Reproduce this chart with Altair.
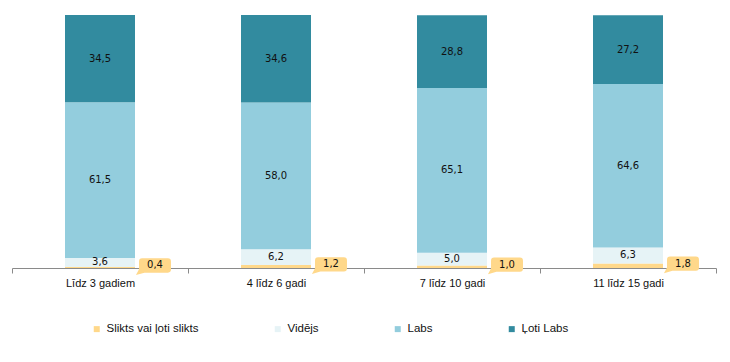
import altair as alt
import pandas as pd

categories = ["Līdz 3 gadiem", "4 līdz 6 gadi", "7 līdz 10 gadi", "11 līdz 15 gadi"]
series = ["Slikts vai ļoti slikts", "Vidējs", "Labs", "Ļoti Labs"]
colors = ["#FFD88A", "#E6F3F6", "#93CDDD", "#328B9F"]
slikts = [0.4, 1.2, 1.0, 1.8]
videjs = [3.6, 6.2, 5.0, 6.3]
labs = [61.5, 58.0, 65.1, 64.6]
loti_labs = [34.5, 34.6, 28.8, 27.2]

rows = []
for i, c in enumerate(categories):
    for j, (s, vals) in enumerate(zip(series, [slikts, videjs, labs, loti_labs])):
        v = vals[i]
        rows.append({"cat": c, "series": s, "idx": j, "value": v,
                     "label": f"{v:.1f}".replace(".", ",")})
df = pd.DataFrame(rows)

xaxis = alt.Axis(labelAngle=0, ticks=True, tickBand="extent", tickExtra=True,
                 domainColor="#8a8a8a",
                 tickColor="#8a8a8a", tickSize=5, tickWidth=1, tickOpacity=1,
                 labelPadding=4,
                 labelFont="Liberation Sans", labelFontSize=11,
                 labelColor="#111111")
xscale = alt.Scale(paddingInner=0, paddingOuter=0)
xenc = alt.X("cat:N", sort=categories, title=None, scale=xscale, axis=xaxis)
yscale = alt.Scale(domain=[0, 100], nice=False)

base = alt.Chart(df).transform_stack(
    stack="value", groupby=["cat"], sort=[alt.SortField("idx", order="ascending")],
    as_=["y0", "y1"]
).transform_calculate(mid="(datum.y0 + datum.y1) / 2")

bars = base.mark_bar(size=70).encode(
    x=xenc,
    y=alt.Y("y0:Q", scale=yscale, axis=None, title=None),
    y2="y1:Q",
    color=alt.Color("series:N", sort=series,
                    scale=alt.Scale(domain=series, range=colors),
                    legend=alt.Legend(title=None, orient="none", legendX=79, legendY=308,
                                      direction="horizontal", columns=4, columnPadding=73,
                                      symbolType="square", symbolSize=36,
                                      symbolStrokeWidth=0, labelOffset=4,
                                      labelFont="Liberation Sans", labelFontSize=11.5,
                                      labelColor="#111111")),
)

inner = base.transform_filter("datum.idx > 0").mark_text(
    font="DejaVu Sans", fontSize=10, color="#111111", baseline="middle"
).encode(x=alt.X("cat:N", sort=categories, scale=xscale, axis=xaxis),
         y=alt.Y("mid:Q", scale=yscale), text="label:N")

box_path = ("M-0.76,-0.42 L0.76,-0.42 Q0.94,-0.42 0.94,-0.24 L0.94,0.24 "
            "Q0.94,0.42 0.76,0.42 L-0.62,0.42 L-1.12,0.56 L-0.94,0.22 "
            "L-0.94,-0.24 Q-0.94,-0.42 -0.76,-0.42 Z")
small = base.transform_filter("datum.idx == 0")
boxes = small.mark_point(shape=box_path, size=1156, filled=True, opacity=1,
                         color="#FFD88A", strokeWidth=0, xOffset=55, yOffset=-2).encode(
    x=alt.X("cat:N", sort=categories, scale=xscale, axis=xaxis),
    y=alt.Y("mid:Q", scale=yscale))
box_text = small.mark_text(font="DejaVu Sans", fontSize=10, color="#111111",
                           baseline="middle", xOffset=55, yOffset=-2).encode(
    x=alt.X("cat:N", sort=categories, scale=xscale, axis=xaxis),
    y=alt.Y("mid:Q", scale=yscale), text="label:N")

chart = alt.layer(bars, inner, boxes, box_text).properties(
    width=704, height=253,
    autosize=alt.AutoSizeParams(type="none"),
    padding={"left": 4, "top": 7, "right": 2, "bottom": 80},
).configure_view(stroke=None)

chart.save("out.html", embed_options={"renderer": "svg", "actions": False})
